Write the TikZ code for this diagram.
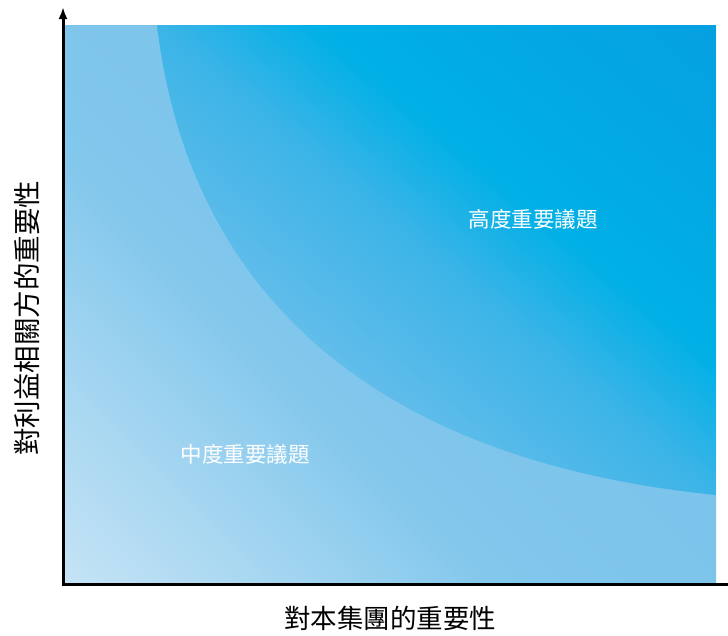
\documentclass[tikz,border=0pt]{standalone}
\usepackage{fontspec}
\newfontfamily\cjk{Noto Sans CJK TC}
\usetikzlibrary{arrows.meta}

\pgfdeclarehorizontalshading{lowzone}{100bp}{%
  rgb(0bp)=(0.773,0.890,0.961);
  rgb(14.6bp)=(0.773,0.890,0.961);
  rgb(29bp)=(0.627,0.831,0.941);
  rgb(40bp)=(0.510,0.780,0.925);
  rgb(55bp)=(0.486,0.769,0.922);
  rgb(100bp)=(0.486,0.769,0.922)}
\pgfdeclarehorizontalshading{highzone}{100bp}{%
  rgb(0bp)=(0.470,0.776,0.925);
  rgb(36bp)=(0.384,0.741,0.918);
  rgb(50bp)=(0.235,0.706,0.906);
  rgb(60bp)=(0.000,0.690,0.902);
  rgb(85bp)=(0.020,0.627,0.878);
  rgb(100bp)=(0.020,0.620,0.878)}

\begin{document}
\begin{tikzpicture}[x=1pt,y=-1pt,
    axisline/.style={line width=3pt,black},
    zonelabel/.style={font=\cjk\fontsize{21.5}{21.5}\selectfont,text=white}]
  \useasboundingbox (0,0) rectangle (728,635);

  % background of the chart
  \shade[shading=lowzone,shading angle=45] (65,25) rectangle (716,583);

  % high-importance zone
  \begin{scope}
    \clip (157,25) .. controls (189,295) and (376,461) .. (716,495) -- (716,25) -- cycle;
    \shade[shading=highzone,shading angle=50] (157,25) rectangle (716,495);
  \end{scope}

  \node[zonelabel] (high) at (533,219) {高度重要議題};
  \node[zonelabel] (mid) at (245,454) {中度重要議題};

  % axes
  \coordinate (origin) at (63,584);
  \coordinate (ytop) at (63,7);
  \coordinate (xend) at (728,584);
  \draw[axisline,-{Latex[length=12pt,width=9pt]}] ([yshift=-1.5pt]origin) -- (ytop);
  \draw[axisline] ([xshift=-1.5pt]origin) -- (xend);

  \node[font=\cjk\fontsize{26.5}{26.5}\selectfont] (xlabel) at (390,618) {對本集團的重要性};
  \node[font=\cjk\fontsize{27.5}{27.5}\selectfont,rotate=90] (ylabel) at (27,318) {對利益相關方的重要性};
\end{tikzpicture}
\end{document}
